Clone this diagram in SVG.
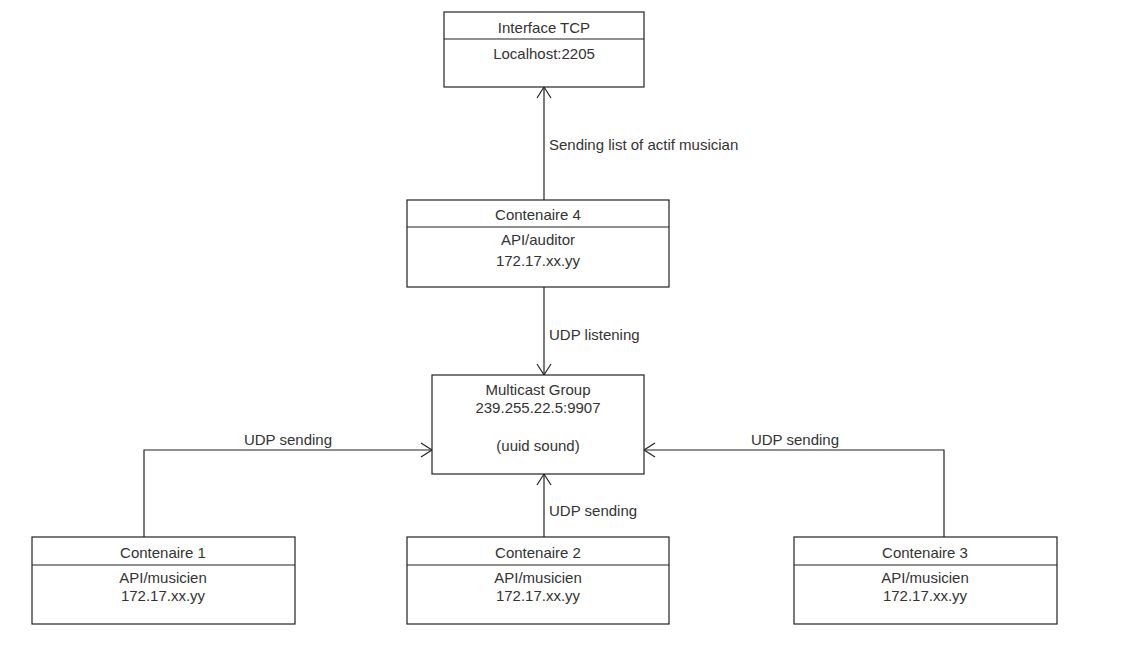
<svg xmlns="http://www.w3.org/2000/svg" width="1140" height="654" viewBox="0 0 1140 654">
<style>
.box{fill:#fff;stroke:#222;stroke-width:1.2}
.div{stroke:#222;stroke-width:1.2}
.t{font-family:"Liberation Sans",Arial,sans-serif;font-size:15px;fill:#333;text-anchor:middle}
.l{font-family:"Liberation Sans",Arial,sans-serif;font-size:15px;fill:#333}
.c{fill:none;stroke:#222;stroke-width:1.2}
</style>
<defs>
<marker id="open" markerWidth="14" markerHeight="16" refX="12" refY="8" orient="auto" markerUnits="userSpaceOnUse">
<path d="M1,1 L12,8 L1,15" fill="none" stroke="#222" stroke-width="1.2"/>
</marker>
</defs>
<rect width="1140" height="654" fill="#fff"/>
<g id="connectors">
<path class="c" d="M544,200 V87" marker-end="url(#open)"/>
<path class="c" d="M544,287 V375" marker-end="url(#open)"/>
<path class="c" d="M144,537 V450 H432" marker-end="url(#open)"/>
<path class="c" d="M944,537 V450 H644" marker-end="url(#open)"/>
<path class="c" d="M544,537 V474" marker-end="url(#open)"/>
<text class="l" x="549" y="150">Sending list of actif musician</text>
<text class="l" x="549" y="340">UDP listening</text>
<text class="t" x="288" y="445">UDP sending</text>
<text class="t" x="795" y="445">UDP sending</text>
<text class="l" x="549" y="516">UDP sending</text>
</g>
<g id="interface-tcp">
<rect class="box" x="444" y="12" width="200" height="75"/>
<line class="div" x1="444" y1="39" x2="644" y2="39"/>
<text class="t" x="544" y="33">Interface TCP</text>
<text class="t" x="544" y="59">Localhost:2205</text>
</g>
<g id="contenaire4">
<rect class="box" x="407" y="200" width="262" height="87"/>
<line class="div" x1="407" y1="227" x2="669" y2="227"/>
<text class="t" x="538" y="220">Contenaire 4</text>
<text class="t" x="538" y="245">API/auditor</text>
<text class="t" x="538" y="266">172.17.xx.yy</text>
</g>
<g id="multicast">
<rect class="box" x="432" y="375" width="212" height="99"/>
<text class="t" x="538" y="395">Multicast Group</text>
<text class="t" x="538" y="413">239.255.22.5:9907</text>
<text class="t" x="538" y="451">(uuid sound)</text>
</g>
<g id="contenaire1">
<rect class="box" x="32" y="537" width="263" height="87"/>
<line class="div" x1="32" y1="565" x2="295" y2="565"/>
<text class="t" x="163" y="558">Contenaire 1</text>
<text class="t" x="163" y="583">API/musicien</text>
<text class="t" x="163" y="601">172.17.xx.yy</text>
</g>
<g id="contenaire2">
<rect class="box" x="407" y="537" width="262" height="87"/>
<line class="div" x1="407" y1="565" x2="669" y2="565"/>
<text class="t" x="538" y="558">Contenaire 2</text>
<text class="t" x="538" y="583">API/musicien</text>
<text class="t" x="538" y="601">172.17.xx.yy</text>
</g>
<g id="contenaire3">
<rect class="box" x="794" y="537" width="263" height="87"/>
<line class="div" x1="794" y1="565" x2="1057" y2="565"/>
<text class="t" x="925" y="558">Contenaire 3</text>
<text class="t" x="925" y="583">API/musicien</text>
<text class="t" x="925" y="601">172.17.xx.yy</text>
</g>
</svg>
